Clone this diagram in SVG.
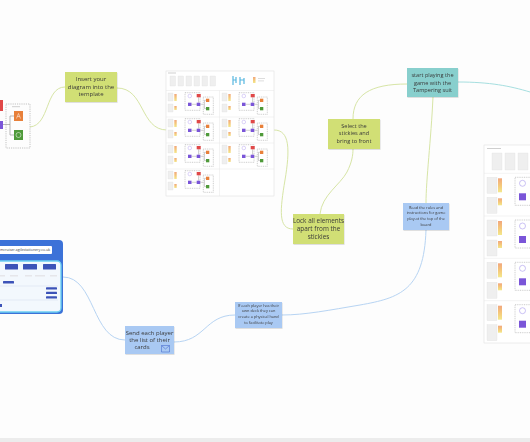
<svg xmlns="http://www.w3.org/2000/svg" width="530" height="442" viewBox="0 0 530 442">
<style>
.t{font-family:"Open Sans","Liberation Sans",sans-serif;fill:#3a3a3a;text-anchor:middle}
.cg{fill:none;stroke:#d7e5a6;stroke-width:1}
.cb{fill:none;stroke:#b7d4f3;stroke-width:1}
.ct{fill:none;stroke:#a6dfe0;stroke-width:1}
.g{fill:#d1df74}
.tl{fill:#88cfcd}
.bl{fill:#a9c9f3}
.dash{fill:none;stroke:#9a9a9a;stroke-width:0.5;stroke-dasharray:1,0.8}
.doc{fill:#efefef;stroke:#dcdcdc;stroke-width:0.3}
.ln{stroke:#8a8a8a;stroke-width:0.4;fill:none}
.pu{fill:#7a55d8}
.rd{fill:#e04848}
.or{fill:#e8803a}
.gr{fill:#4f9a3a}
.db{fill:#3c53b8}
.lbl{fill:#e6e6ea}
</style>
<defs>
<linearGradient id="bar" x1="0" y1="0" x2="0" y2="1">
<stop offset="0" stop-color="#f1a77e"/><stop offset="0.5" stop-color="#f5c77a"/><stop offset="1" stop-color="#f3e88c"/>
</linearGradient>
<filter id="sh" x="-10%" y="-10%" width="130%" height="130%">
<feDropShadow dx="0.5" dy="0.8" stdDeviation="0.6" flood-color="#000" flood-opacity="0.15"/>
</filter>
<g id="cell">
<rect class="doc" x="2" y="2" width="5" height="8"/>
<rect class="doc" x="2" y="13" width="5" height="8"/>
<rect x="8.3" y="3" width="2.4" height="7" fill="url(#bar)"/>
<rect x="8.3" y="15" width="2.4" height="4" fill="url(#bar)"/>
<rect class="dash" x="19" y="1.7" width="15" height="17.6"/>
<circle cx="23.8" cy="5" r="1.8" fill="none" stroke="#b9a6f0" stroke-width="0.5"/>
<path class="ln" d="M25.5,13.3 H30.7 M32.5,11.7 V6.3 M34.2,13.3 H37.3 M38.5,9.3 H40 M38.5,9.3 V17.6 H40"/>
<rect class="pu" x="22" y="11.7" width="3.5" height="3.3"/>
<rect class="pu" x="30.7" y="11.7" width="3.5" height="3.3"/>
<rect class="rd" x="30.7" y="3" width="4" height="3.3"/>
<rect class="dash" x="37.3" y="6" width="10" height="17.3"/>
<rect class="or" x="40" y="7.7" width="3.3" height="3.3"/>
<rect class="gr" x="40" y="16" width="3.3" height="3.3"/>
</g>
<g id="rcell">
<rect class="doc" x="2" y="4" width="10" height="16"/>
<rect class="doc" x="2" y="24" width="10" height="16"/>
<rect x="13" y="5" width="4" height="14" fill="url(#bar)"/>
<rect x="13" y="25" width="4" height="7" fill="url(#bar)"/>
<rect class="dash" x="30" y="4" width="16" height="28"/>
<circle cx="37.5" cy="10" r="3" fill="none" stroke="#a898ec" stroke-width="0.6"/>
<rect class="pu" x="34" y="20" width="7" height="7"/>
</g>
</defs>
<rect width="530" height="442" fill="#fdfdfd"/>
<rect x="0" y="438" width="530" height="4" fill="#ececec"/>

<g id="connectors">
<path class="cg" d="M30,127 C50,125 45,87 65,87"/>
<path class="cg" d="M117,88 C145,88 140,130 167,130"/>
<path class="cg" d="M274,130 C290,130 290,150 285,180 C280,210 278,229 293,229"/>
<path class="cg" d="M320,214 C322,195 340,185 347,172 C352,162 353,155 353,149"/>
<path class="cg" d="M353,119 C353,95 370,84 407,84"/>
<path class="cg" d="M433,97 C431,140 426,180 426,203"/>
<path class="ct" d="M458,82 C490,82 510,86 530,92"/>
<path class="cb" d="M63,277 C95,277 92,340 125,340"/>
<path class="cb" d="M174,342 C205,342 205,315 235,315"/>
<path class="cb" d="M426,230 C424,290 400,298 360,305 C330,310 305,315 282,315"/>
</g>

<g id="left-diagram">
<rect class="rd" x="-2" y="100" width="5" height="11"/>
<rect class="pu" x="-2" y="121" width="5" height="8"/>
<path d="M3,124.5 H10 M10,116 V135 M10,116 H14 M10,135 H14" stroke="#8a8a8a" stroke-width="0.6" fill="none"/>
<rect x="6" y="104" width="24" height="44" fill="none" stroke="#a0a0a0" stroke-width="0.6" stroke-dasharray="1.2,1"/>
<rect x="12" y="106" width="8" height="1.2" fill="#d8d8d8"/>
<rect class="or" x="14" y="111" width="9" height="10"/>
<rect class="gr" x="14" y="130" width="9" height="10"/>
<path d="M16.5,118.5 L18.5,113.5 L20.5,118.5 M17.3,116.5 H19.7" stroke="#fff" stroke-width="0.5" fill="none"/>
<circle cx="18.5" cy="135" r="2.5" fill="none" stroke="#fff" stroke-width="0.5"/>
</g>

<g id="node-insert" filter="url(#sh)">
<rect class="g" x="65" y="72" width="52" height="30"/>
<text class="t" font-size="6" x="91" y="81.2">Insert your</text>
<text class="t" font-size="6" x="91" y="88.8">diagram into the</text>
<text class="t" font-size="6" x="91" y="96.4">template</text>
</g>

<g id="template">
<rect x="166" y="71" width="108" height="125" fill="#fff" stroke="#e2e2e2" stroke-width="0.6"/>
<rect x="168" y="72.5" width="8" height="1" fill="#cfcfcf"/>
<rect class="doc" x="170" y="76" width="5.5" height="10"/>
<rect class="doc" x="178" y="76" width="5.5" height="10"/>
<rect class="doc" x="186" y="76" width="5.5" height="10"/>
<rect class="doc" x="194" y="76" width="5.5" height="10"/>
<rect class="doc" x="202" y="76" width="5.5" height="10"/>
<rect class="doc" x="210" y="76" width="5.5" height="10"/>
<path d="M233,76 V85 M233,80 H236 M236,77 V83 M240,77 V85 M240,80 H244 M244,78 V84" stroke="#58b7e0" stroke-width="1.2" fill="none"/>
<rect x="253" y="77" width="2.5" height="6" fill="url(#bar)"/>
<rect x="258" y="78" width="7" height="0.8" fill="#d5d5d5"/>
<rect x="258" y="80.5" width="6" height="0.8" fill="#d5d5d5"/>
<line x1="166" y1="90.5" x2="274" y2="90.5" stroke="#e6e6e6" stroke-width="0.5"/>
<line x1="166" y1="117" x2="274" y2="117" stroke="#e6e6e6" stroke-width="0.5"/>
<line x1="166" y1="143" x2="274" y2="143" stroke="#e6e6e6" stroke-width="0.5"/>
<line x1="166" y1="169" x2="274" y2="169" stroke="#e6e6e6" stroke-width="0.5"/>
<line x1="219.5" y1="90.5" x2="219.5" y2="196" stroke="#e6e6e6" stroke-width="0.5"/>
<use href="#cell" x="166" y="91"/>
<use href="#cell" x="220" y="91"/>
<use href="#cell" x="166" y="117"/>
<use href="#cell" x="220" y="117"/>
<use href="#cell" x="166" y="143"/>
<use href="#cell" x="220" y="143"/>
<use href="#cell" x="166" y="169"/>
</g>

<g id="node-select" filter="url(#sh)">
<rect class="g" x="328" y="119" width="52" height="30"/>
<text class="t" font-size="5.6" x="354" y="127.8">Select the</text>
<text class="t" font-size="5.6" x="354" y="135.3">stickies and</text>
<text class="t" font-size="5.6" x="354" y="142.8">bring to front</text>
</g>

<g id="node-start" filter="url(#sh)">
<rect class="tl" x="407" y="68" width="51" height="29"/>
<text class="t" font-size="5.6" x="432.5" y="77">start playing the</text>
<text class="t" font-size="5.6" x="432.5" y="84.5">game with the</text>
<text class="t" font-size="5.6" x="432.5" y="92">Tampering suit</text>
</g>

<g id="right-template">
<rect x="484" y="145" width="60" height="198" fill="#fff" stroke="#e2e2e2" stroke-width="0.6"/>
<rect x="487" y="148" width="14" height="1" fill="#cfcfcf"/>
<rect class="doc" x="492" y="153" width="10" height="17"/>
<rect class="doc" x="505" y="153" width="10" height="17"/>
<rect class="doc" x="518" y="153" width="10" height="17"/>
<line x1="484" y1="173.3" x2="530" y2="173.3" stroke="#e6e6e6" stroke-width="0.5"/>
<line x1="484" y1="216" x2="530" y2="216" stroke="#e6e6e6" stroke-width="0.5"/>
<line x1="484" y1="258.3" x2="530" y2="258.3" stroke="#e6e6e6" stroke-width="0.5"/>
<line x1="484" y1="300.7" x2="530" y2="300.7" stroke="#e6e6e6" stroke-width="0.5"/>
<use href="#rcell" x="485" y="173.3"/>
<use href="#rcell" x="485" y="216"/>
<use href="#rcell" x="485" y="258.3"/>
<use href="#rcell" x="485" y="300.7"/>
</g>

<g id="node-lock" filter="url(#sh)">
<rect class="g" x="293" y="214" width="51" height="30"/>
<text class="t" font-size="6.4" x="318.5" y="223.2">Lock all elements</text>
<text class="t" font-size="6.4" x="318.5" y="231">apart from the</text>
<text class="t" font-size="6.4" x="318.5" y="238.8">stickies</text>
</g>

<g id="node-read" filter="url(#sh)">
<rect class="bl" x="403" y="203" width="46" height="27"/>
<text class="t" font-size="3.9" x="426" y="208.7">Read the rules and</text>
<text class="t" font-size="3.9" x="426" y="214.3">instructions for game</text>
<text class="t" font-size="3.9" x="426" y="220">play at the top of the</text>
<text class="t" font-size="3.9" x="426" y="225.6">board</text>
</g>

<g id="web-mockup">
<rect x="-10" y="240" width="73" height="74" rx="4" fill="#3c72d8"/>
<rect x="-10" y="261" width="71" height="51" rx="4" fill="#f3f8fd" stroke="#6dd0f2" stroke-width="1.4"/>
<rect x="-5" y="246" width="57" height="8" rx="1" fill="#fff"/>
<text font-family="Open Sans, Liberation Sans, sans-serif" font-size="3.6" fill="#444" x="0" y="251.3">mcruiser.agilestationery.co.uk</text>
<rect class="db" x="5" y="264" width="13" height="5.5" rx="0.5"/>
<rect class="db" x="23" y="264" width="14" height="5.5" rx="0.5"/>
<rect class="db" x="43" y="264" width="13" height="5.5" rx="0.5"/>
<rect class="lbl" x="0" y="275" width="5" height="1.5"/>
<rect class="lbl" x="10" y="275" width="8" height="1.5"/>
<rect class="lbl" x="25" y="275" width="7" height="1.5"/>
<rect class="lbl" x="35" y="275" width="10" height="1.5"/>
<rect class="lbl" x="50" y="275" width="7" height="1.5"/>
<rect class="db" x="3" y="281" width="11" height="2.5" rx="0.5"/>
<line x1="0" y1="286" x2="58" y2="286" stroke="#c9d7ea" stroke-width="0.4"/>
<rect class="db" x="46" y="287.3" width="11" height="2.3" rx="0.4"/>
<rect class="db" x="46" y="291.8" width="11" height="2.3" rx="0.4"/>
<rect class="db" x="46" y="296.3" width="11" height="2.3" rx="0.4"/>
<line x1="0" y1="300" x2="58" y2="300" stroke="#c9d7ea" stroke-width="0.4"/>
<rect class="db" x="-1" y="304" width="3" height="3"/>
</g>

<g id="node-send" filter="url(#sh)">
<rect class="bl" x="125" y="326" width="49" height="28"/>
<text class="t" font-size="6" x="149.5" y="334.8">Send each player</text>
<text class="t" font-size="6" x="149.5" y="342.1">the list of their</text>
<text class="t" font-size="6" x="142" y="349.4">cards</text>
<path d="M161.5,345.5 H169.5 V352 H161.5 Z M161.5,345.5 L165.5,349 L169.5,345.5" fill="none" stroke="#4a6fd0" stroke-width="0.6"/>
</g>

<g id="node-ifeach" filter="url(#sh)">
<rect class="bl" x="235" y="302" width="47" height="26"/>
<text class="t" font-size="3.9" x="258.5" y="307">If each player has their</text>
<text class="t" font-size="3.9" x="258.5" y="312.4">own deck they can</text>
<text class="t" font-size="3.9" x="258.5" y="318">create a physical hand</text>
<text class="t" font-size="3.9" x="258.5" y="323.6">to facilitate play</text>
</g>
</svg>
